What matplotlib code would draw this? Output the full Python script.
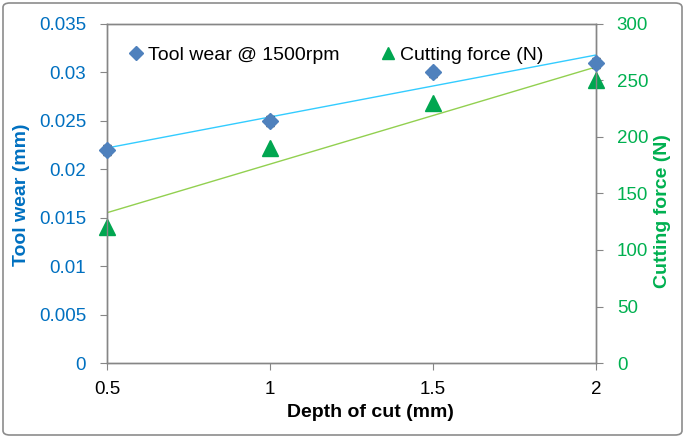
import numpy as np
import matplotlib
matplotlib.use("Agg")
import matplotlib.pyplot as plt
from matplotlib.patches import FancyBboxPatch
from matplotlib.lines import Line2D

plt.rcParams['font.family'] = ['Liberation Sans', 'DejaVu Sans']

depth = [0.5, 1.0, 1.5, 2.0]
tool_wear = [0.022, 0.025, 0.030, 0.031]
tool_wear_err = [0.0005, 0.0005, 0.0005, 0.0005]
cutting_force = [120, 190, 230, 250]

wear_tick_labels = ['0', '0.005', '0.01', '0.015', '0.02', '0.025', '0.03', '0.035']
force_ticks = [0, 50, 100, 150, 200, 250, 300]
x_ticks = [0.5, 1, 1.5, 2]
x_tick_labels = ['0.5', '1', '1.5', '2']

BLUE_MARK = '#4F81BD'
BLUE_TXT = '#0070C0'
BLUE_LINE = '#33CCFF'
GREEN_MARK = '#00A650'
GREEN_TXT = '#00B050'
GREEN_LINE = '#92D050'
GRID = '#868686'

fig = plt.figure(figsize=(6.85, 4.38), dpi=100)
ax = fig.add_axes([107/685, 1-363/438, (596-107)/685, (363-24)/438])
ax2 = ax.twinx()
ax.set_zorder(2)
ax.patch.set_visible(False)

x = np.array(depth)
xs = np.array([0.5, 2.0])
pw = np.polyfit(x, tool_wear, 1)
pf = np.polyfit(x, cutting_force, 1)

ax.plot(xs, np.polyval(pw, xs), color=BLUE_LINE, lw=1.0, zorder=2)
eb = ax.errorbar(depth, tool_wear, yerr=tool_wear_err, fmt='none',
                 ecolor='black', elinewidth=1, capsize=3, zorder=3)
for art in eb.lines[1] + eb.lines[2]:
    art.set_clip_on(False)
ax.plot(depth, tool_wear, 'D', color=BLUE_MARK, ms=8.5, zorder=4, clip_on=False)
ax2.plot(xs, np.polyval(pf, xs), color=GREEN_LINE, lw=1.0, zorder=2)
ax2.plot(depth, cutting_force, '^', color=GREEN_MARK, ms=11, zorder=3, clip_on=False)

ax.set_xlim(0.5, 2.0)
ax.set_ylim(0, 0.035)
ax2.set_ylim(0, 300)
ax.set_yticks([i * 0.005 for i in range(8)])
ax.set_yticklabels(wear_tick_labels)
ax2.set_yticks(force_ticks)
ax.set_xticks(x_ticks)
ax.set_xticklabels(x_tick_labels)

for a in (ax, ax2):
    for s in a.spines.values():
        s.set_color(GRID)
        s.set_linewidth(1.0)
ax.tick_params(axis='x', direction='out', length=5, color=GRID, labelsize=13.5, pad=8, labelcolor='black')
ax.tick_params(axis='y', direction='out', length=5, color=GRID, labelsize=13.5, pad=10, labelcolor=BLUE_TXT)
ax2.tick_params(axis='y', direction='out', length=5, color=GRID, labelsize=13.5, pad=10, labelcolor=GREEN_TXT)

ax.set_xlabel('Depth of cut (mm)', fontsize=14, fontweight='bold')
ax.xaxis.set_label_coords((370 - 107) / 489, -(404 - 363) / 339)
ax.set_ylabel('Tool wear (mm)', fontsize=14, fontweight='bold', color=BLUE_TXT)
ax.yaxis.set_label_coords(-(107 - 30) / 489, (363 - 195) / 339)
ax2.set_ylabel('Cutting force (N)', fontsize=14, fontweight='bold', color=GREEN_TXT, rotation=90)
ax2.yaxis.set_label_coords(1 + (654 - 596) / 489, (363 - 211) / 339)

handles = [Line2D([], [], marker='D', color=BLUE_MARK, ls='none', ms=7),
           Line2D([], [], marker='^', color=GREEN_MARK, ls='none', ms=8)]
ax.legend(handles, ['Tool wear @ 1500rpm', 'Cutting force (N)'], ncol=2, frameon=False,
          loc='upper left', bbox_to_anchor=(0.0, 0.985), fontsize=14,
          handletextpad=0.0, columnspacing=1.9, handlelength=1.2)

border = FancyBboxPatch((3/685, 3/438), 679/685, 432/438, boxstyle='round,pad=0,rounding_size=0.01',
                        transform=fig.transFigure, fill=False, edgecolor='#8C8C8C', lw=1.2)
fig.patches.append(border)

fig.savefig('out.png', dpi=100)
